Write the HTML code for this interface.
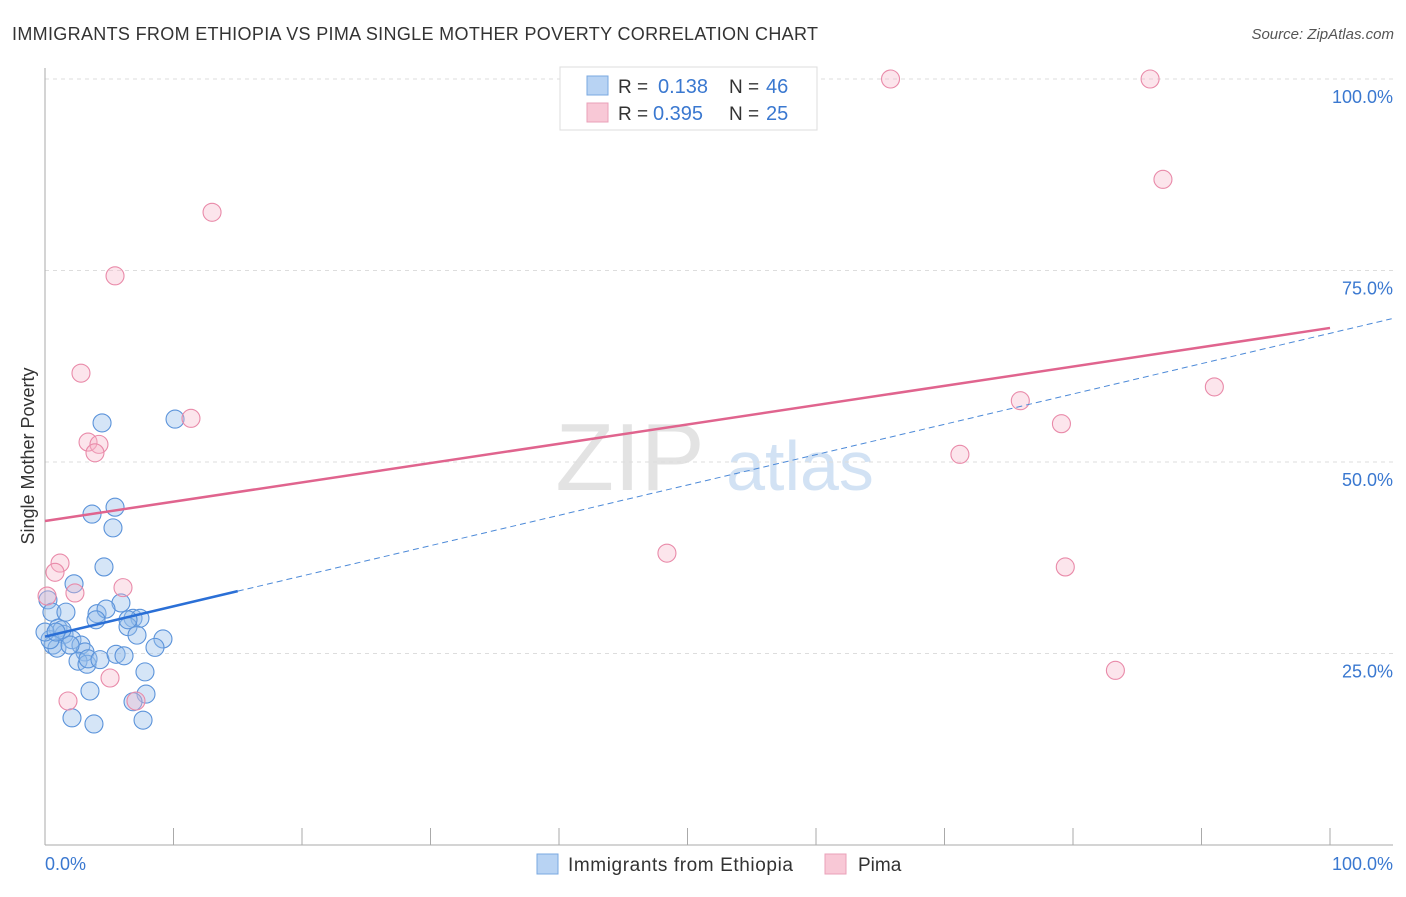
<!DOCTYPE html>
<html><head><meta charset="utf-8">
<style>
body{margin:0;background:#fff;font-family:"Liberation Sans",sans-serif;}
svg text{font-family:"Liberation Sans",sans-serif;}
</style></head>
<body>
<svg id="chart" width="1406" height="892" xmlns="http://www.w3.org/2000/svg">
<text x="12" y="40" font-size="18" fill="#333" textLength="806">IMMIGRANTS FROM ETHIOPIA VS PIMA SINGLE MOTHER POVERTY CORRELATION CHART</text>
<text x="1394" y="39" font-size="15" fill="#555" text-anchor="end" font-style="italic">Source: ZipAtlas.com</text>
<text x="34" y="456" font-size="18" fill="#333" text-anchor="middle" transform="rotate(-90 34 456)">Single Mother Poverty</text>
<g>
<text x="630" y="490" font-size="96" fill="#ddd" font-family="Liberation Serif" text-anchor="middle" opacity="0.8">ZIP</text>
<text x="800" y="490" font-size="70" fill="#c8dcf2" text-anchor="middle" opacity="0.8">atlas</text>
</g>
<g id="grid"></g>
<g id="axes"></g>
<g id="marks"></g>
<g>
<rect x="560" y="67" width="257" height="63" fill="#fff" stroke="#ddd"/>
<rect x="587" y="76" width="21" height="19" fill="#b8d3f3" stroke="#7aa8e0"/>
<rect x="587" y="103" width="21" height="19" fill="#f8c8d6" stroke="#eaa0b8"/>
<text x="618" y="93" font-size="19" fill="#333">R = </text><text x="658" y="93" font-size="20" fill="#3a78d0">0.138</text>
<text x="729" y="93" font-size="19" fill="#333">N = </text><text x="766" y="93" font-size="20" fill="#3a78d0">46</text>
<text x="618" y="120" font-size="19" fill="#333">R = </text><text x="653" y="120" font-size="20" fill="#3a78d0">0.395</text>
<text x="729" y="120" font-size="19" fill="#333">N = </text><text x="766" y="120" font-size="20" fill="#3a78d0">25</text>
</g>
<g>
<rect x="537" y="854" width="21" height="20" fill="#b8d3f3" stroke="#7aa8e0"/>
<text x="568" y="871" font-size="19" fill="#333" textLength="225">Immigrants from Ethiopia</text>
<rect x="825" y="854" width="21" height="20" fill="#f8c8d6" stroke="#eaa0b8"/>
<text x="858" y="871" font-size="19" fill="#333">Pima</text>
</g>
</svg>
<script>
const yTicks=[25,50,75,100];
const yTickLabels=["25.0%","50.0%","75.0%","100.0%"];
const xTicks=[0,10,20,30,40,50,60,70,80,90,100];
const ethX=[4.44,10.12,3.66,5.45,5.29,4.59,2.26,0.23,0.54,1.63,4.05,5.91,4.75,6.85,7.39,6.46,7.16,9.18,8.56,1.01,1.48,2.10,2.80,3.11,0.62,0.93,2.57,3.27,3.35,4.28,5.53,6.15,7.78,3.50,7.86,6.85,2.10,3.81,7.63,0.39,1.32,3.97,0,1.95,6.46,0.86];
const ethY=[55.1,55.6,43.2,44.1,41.4,36.3,34.1,32.0,30.4,30.4,30.2,31.6,30.8,29.6,29.6,28.5,27.4,26.9,25.8,28.3,27.5,26.8,26.1,25.2,26.1,25.7,24.0,23.6,24.3,24.2,24.9,24.7,22.6,20.1,19.7,18.7,16.6,15.8,16.3,26.8,28.1,29.4,27.8,26.1,29.4,27.8];
const pimaX=[65.8,86.0,87.0,13.0,5.45,2.80,11.36,3.35,4.20,3.89,91.0,75.9,79.1,71.2,48.4,79.4,83.3,1.17,0.78,2.33,6.07,0.16,5.06,1.79,7.08];
const pimaY=[100,100,86.9,82.6,74.3,61.6,55.7,52.6,52.3,51.2,59.8,58.0,55.0,51.0,38.1,36.3,22.8,36.8,35.6,32.9,33.6,32.5,21.8,18.8,18.8];
const ethTrend=[27.2,66.8];   // y at x=0 and x=100
const pimaTrend=[42.3,67.5];
const NS="http://www.w3.org/2000/svg";
const sx=v=>45+v*12.85, sy=v=>845-v*7.66;
function mk(tag,attrs,parent){const e=document.createElementNS(NS,tag);for(const k in attrs)e.setAttribute(k,attrs[k]);document.getElementById(parent).appendChild(e);return e;}
yTicks.forEach((t,i)=>{
 const g=mk('line',{x1:45,x2:1393,y1:sy(t),y2:sy(t),stroke:'#ddd','stroke-dasharray':'4,4'},'grid');
 
 
 const l=mk('text',{x:1393,y:sy(t)+24,'font-size':18,fill:'#3a78d0','text-anchor':'end'},'grid');
 l.textContent=yTickLabels[i];
 
 
});
let a=mk('line',{x1:45,x2:45,y1:68,y2:845,stroke:'#aaa'},'axes');


a=mk('line',{x1:45,x2:1393,y1:845,y2:845,stroke:'#aaa'},'axes');


xTicks.forEach(t=>{const e=mk('line',{x1:sx(t),x2:sx(t),y1:828,y2:845,stroke:'#aaa'},'axes');
 
 });
let t0=mk('text',{x:45,y:870,'font-size':18,fill:'#3a78d0'},'axes');t0.textContent='0.0%';


let t1=mk('text',{x:1393,y:870,'font-size':18,fill:'#3a78d0','text-anchor':'end'},'axes');t1.textContent='100.0%';


ethX.forEach((x,i)=>{const c=mk('circle',{cx:sx(x),cy:sy(ethY[i]),r:9,fill:'rgba(150,190,235,0.4)',stroke:'#5b93da','stroke-width':1.1},'marks');
 
 });
pimaX.forEach((x,i)=>{const c=mk('circle',{cx:sx(x),cy:sy(pimaY[i]),r:9,fill:'rgba(245,180,200,0.35)',stroke:'#e98aa9','stroke-width':1.1},'marks');
 
 });
const ey=x=>ethTrend[0]+(ethTrend[1]-ethTrend[0])*x/100;
let l1=mk('line',{x1:sx(0),y1:sy(ey(0)),x2:sx(15),y2:sy(ey(15)),stroke:'#2a6fd6','stroke-width':2.5},'marks');


let l2=mk('line',{x1:sx(15),y1:sy(ey(15)),x2:sx(104.8),y2:sy(ey(104.8)),stroke:'#4d8ad8','stroke-width':1,'stroke-dasharray':'6,4'},'marks');


let l3=mk('line',{x1:sx(0),y1:sy(pimaTrend[0]),x2:sx(100),y2:sy(pimaTrend[1]),stroke:'#e0648e','stroke-width':2.5},'marks');


</script>
</body></html>
